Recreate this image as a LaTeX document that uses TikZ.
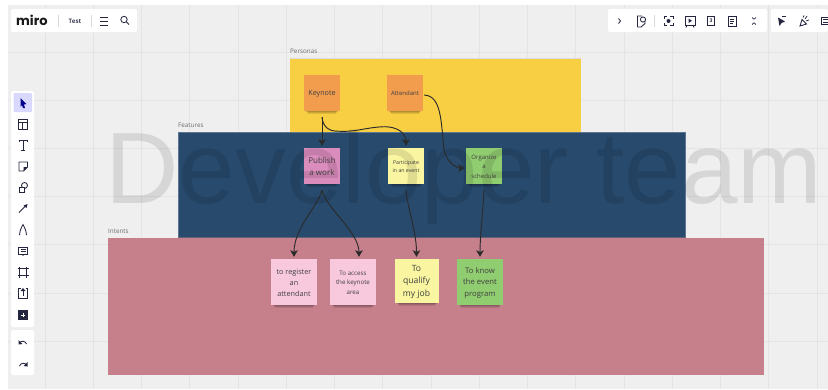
\documentclass[tikz,border=0pt]{standalone}
\usepackage{fontspec}
\setmainfont{Open Sans}
\newfontfamily\bigfont{Liberation Sans}
\newfontfamily\logofont{Poppins}
\usetikzlibrary{arrows.meta,calc}
\definecolor{bgc}{HTML}{EFEFEF}
\definecolor{gridc}{HTML}{E4E4E4}
\definecolor{yelf}{HTML}{F8CF42}
\definecolor{bluf}{HTML}{274A6D}
\definecolor{pnkf}{HTML}{C6808C}
\definecolor{orn}{HTML}{F29D4E}
\definecolor{pub}{HTML}{DA8CBC}
\definecolor{lyel}{HTML}{F9F5A0}
\definecolor{grn}{HTML}{90CC70}
\definecolor{lpnk}{HTML}{F8C9DC}
\definecolor{ink}{HTML}{2B2B2B}
\definecolor{icn}{HTML}{24253F}
\tikzset{
  framelabel/.style={anchor=base west,inner sep=0,text=black!58,font=\fontsize{6.3}{7}\selectfont},
  stickerbox/.style={fill=#1,draw=none,inner sep=0,text width=0},
  stickertext/.style={text=ink!90,align=center,inner sep=0,yshift=-.7pt},
  link/.style={draw=ink,line width=.95,-{Stealth[length=6.5pt,width=7.5pt,inset=1.6pt]}},
  panel/.style={fill=white,draw=none,rounded corners=2},
  ic/.style={draw=icn,line width=.85,fill=none},
  sep/.style={draw=black!15,line width=.5},
}
\newcommand{\stk}[6]{% name cx cy w h colour
  \foreach \k/\o in {0/.10,1/.10,2/.12}{
    \fill[black,opacity=\o] ({#2-#4/2+4-\k},{#3+#5/2-1}) rectangle ({#2+#4/2-4+\k},{#3+#5/2+3-\k});
  }
  \node[stickerbox=#6,minimum width=#4 pt,minimum height=#5 pt] (#1) at (#2,#3) {};
}
\begin{document}
\begin{tikzpicture}[x=1pt,y=-1pt]
\useasboundingbox (0,0) rectangle (828,389);
\fill[white] (0,0) rectangle (828,389);
\fill[bgc] (8,5) rectangle (828,389);
\foreach \i in {0,...,16} \draw[gridc,line width=.8] ({45+48.25*\i},5) -- ({45+48.25*\i},389);
\foreach \i in {0,...,6} \draw[gridc,line width=.8] (8,{52+48.2*\i}) -- (828,{52+48.2*\i});
% frames
\node[framelabel] (lper) at (290,53) {Personas};
\node[framelabel] (lfea) at (178,127) {Features};
\node[framelabel] (lint) at (108,233) {Intents};
\fill[yelf] (290,58) rectangle (581,132);
\draw[black!14,line width=.5] (290,58) -- (581,58);
\fill[bluf] (178,132) rectangle (685.5,238);
\draw[bluf!75!white,line width=.5] (178,238) -- (178,132) -- (685.5,132) -- (685.5,238);
\fill[pnkf] (107.5,237.5) rectangle (764,375);
\draw[bluf!60!pnkf,line width=.6] (178,237.5) -- (685.5,237.5);
% stickers
\stk{key}{322}{93}{36}{36}{orn}
\stk{att}{405}{93}{36}{36}{orn}
\stk{pw}{322}{166}{36}{36}{pub}
\stk{par}{406}{166}{36}{36}{lyel}
\stk{org}{484}{166}{36}{36}{grn}
\stk{reg}{294}{282}{46}{46}{lpnk}
\stk{acc}{353}{282}{46}{46}{lpnk}
\stk{qua}{416.5}{281}{44}{44}{lyel}
\stk{kno}{480}{282}{46}{46}{grn}
% big title overlays the frames and the stickers
\node[anchor=base west,inner sep=0,opacity=.1,text=black,font=\bigfont\fontsize{101.5}{102}\selectfont] (title) at (105.5,203) {Developer team};
% sticker texts
\node[stickertext,font=\fontsize{7.2}{9}\selectfont] (tkey) at (key) {Keynote};
\node[stickertext,font=\fontsize{6}{8}\selectfont] (tatt) at (att) {Attendant};
\node[stickertext,font=\fontsize{8}{11.5}\selectfont] (tpw) at (pw) {Publish\\a work};
\node[stickertext,font=\fontsize{5.2}{7.5}\selectfont] (tpar) at (par) {Participate\\in an event};
\node[stickertext,font=\fontsize{6}{9.2}\selectfont] (torg) at (org) {Organize\\a\\schedule};
\node[stickertext,font=\fontsize{7.3}{11}\selectfont] (treg) at (reg) {to register\\an\\attendant};
\node[stickertext,font=\fontsize{6.2}{9.5}\selectfont] (tacc) at (acc) {To access\\the keynote\\area};
\node[stickertext,font=\fontsize{8.6}{12.6}\selectfont] (tqua) at (qua) {To\\qualify\\my job};
\node[stickertext,font=\fontsize{7.7}{11.6}\selectfont] (tkno) at (kno) {To know\\the event\\program};
% connectors
\draw[link] ([yshift=-6pt]key.south) -- ([yshift=2pt]pw.north);
\draw[link] ([yshift=-6pt]key.south) .. controls +(1,10) and +(-9,0) .. ([xshift=16pt,yshift=-20pt]key.south) .. controls +(18,1) and +(-18,1) .. ([xshift=-24pt,yshift=21pt]par.north) .. controls +(16,-1) and +(0,-12) .. ([yshift=2pt]par.north);
\draw[link] ([xshift=1pt,yshift=-2pt]att.east) .. controls +(17,1) and +(-3,-30) .. ([xshift=-40pt,yshift=16pt]org.center) .. controls +(3,13) and +(-8,0) .. ([xshift=-1pt,yshift=-2pt]org.west);
\draw[link] ([yshift=-6pt]pw.south) .. controls +(-4,16) and +(0,-29) .. ([yshift=2pt]reg.north);
\draw[link] ([yshift=-6pt]pw.south) .. controls +(4,18) and +(0,-25) .. ([xshift=6pt,yshift=2pt]acc.north);
\draw[link] ([yshift=-6pt]par.south) .. controls +(2,20) and +(0,-25) .. ([yshift=2pt]qua.north);
\draw[link] ([yshift=-6pt]org.south) .. controls +(-1,20) and +(0,-20) .. ([yshift=2pt]kno.north);
% top-left bar
\fill[panel] (11,9) rectangle (137,32);
\node[anchor=base west,inner sep=0,text=black!90,font=\logofont\bfseries\fontsize{13}{13}\selectfont] (logo) at (16,25.5) {miro};
\draw[sep] (58,15) -- (58,27);
\node[inner sep=0,text=icn!85,font=\bfseries\fontsize{6.2}{7}\selectfont] (test) at (75,21) {Test};
\draw[sep] (91,15) -- (91,27);
\foreach \y in {17,21,25} \draw[ic] (100,\y) -- (108,\y);
\draw[ic] (124,19.5) circle (3.2); \draw[ic] (126.4,22) -- (129,24.5);
% left bar
\fill[panel] (11,91) rectangle (34,327);
\fill[panel] (11,330) rectangle (34,375);
\fill[blue!15,rounded corners=1] (13.5,93) rectangle (32,112);
\fill[blue!55!black] (20.5,98) -- (26.5,104) -- (24,104.5) -- (25,108) -- (23,108) -- (22,105) -- (20.5,107) -- cycle;
\draw[ic] (18.5,119) rectangle (27.5,129); \draw[ic] (18.5,122) -- (27.5,122); \draw[ic] (22,122) -- (22,129);
\draw[ic,line width=1] (19,142) -- (19,140.5) -- (27,140.5) -- (27,142) (23,140.5) -- (23,150) (21,150) -- (25,150);
\draw[ic,line join=round] (19,162) -- (27.5,162) -- (27.5,167) -- (23.5,171) -- (19,171) -- cycle;
\fill[icn] (27.5,167) -- (23.5,171) -- (23.5,167) -- cycle;
\draw[ic] (24.5,185.5) circle (3); \fill[white] (19,187) rectangle (24.5,192); \draw[ic] (19,187) rectangle (24.5,192);
\draw[ic] (19,212.5) -- (26,205.5); \fill[icn] (27.5,204) -- (26.5,208) -- (23.5,205.5) -- cycle;
\draw[ic] (19.5,235) .. controls (20,229) and (22,227) .. (23,224.5) .. controls (24,227) and (26,229) .. (26.5,235);
\draw[ic] (18.5,247) rectangle (27.5,254); \draw[ic] (20.5,249.5) -- (25.5,249.5) (20.5,251.8) -- (25.5,251.8); \fill[icn] (21.5,254) -- (24.5,254) -- (23,256) -- cycle;
\draw[ic] (19.5,266.5) -- (19.5,277.5) (26.5,266.5) -- (26.5,277.5) (17.5,268.5) -- (28.5,268.5) (17.5,275.5) -- (28.5,275.5);
\draw[ic] (20.5,288) -- (18.5,288) -- (18.5,298) -- (27.5,298) -- (27.5,288) -- (25.5,288);
\draw[ic] (23,296) -- (23,290); \fill[icn] (20.5,291) -- (25.5,291) -- (23,288) -- cycle;
\fill[icn] (18,310) rectangle (28,320); \draw[white,line width=.9] (21,315) -- (25,315) (23,313) -- (23,317);
\draw[ic] (26.5,344) .. controls (25,340.5) and (21,340.5) .. (19.5,343); \fill[icn] (18.5,340) -- (18.5,344.5) -- (22.5,344) -- cycle;
\draw[ic] (19.5,366) .. controls (21,362.5) and (25,362.5) .. (26.5,365); \fill[icn] (27.5,362) -- (27.5,366.5) -- (23.5,366) -- cycle;
% top-right bars
\fill[panel] (608,9) rectangle (767,32);
\fill[panel] (771,9) rectangle (828,32);
\draw[ic] (618.5,18.5) -- (620.5,21) -- (618.5,23.5);
\draw[ic] (637.5,27) -- (637.5,16) -- (642,16) (637.5,27) -- (641,27) -- (645,23.5) -- (645,21); \draw[ic] (643,19.5) circle (2.6);
\draw[sep] (654,15) -- (654,27);
\draw[ic] (664,19) -- (664,16.5) -- (666.5,16.5) (670,16.5) -- (673,16.5) -- (673,19) (673,23) -- (673,25.5) -- (670,25.5) (666.5,25.5) -- (664,25.5) -- (664,23);
\fill[icn] (668.5,21) circle (2);
\draw[ic] (685,16.5) rectangle (695,25); \fill[icn] (688.5,18.5) -- (692,20.8) -- (688.5,23) -- cycle; \draw[ic] (687,25) -- (686,27.5) (693,25) -- (694,27.5);
\draw[ic,line width=1] (707.5,16.5) rectangle (714.5,25.5); \node[inner sep=0,text=icn,font=\bfseries\fontsize{5}{5}\selectfont] (three) at (711,21) {3};
\draw[ic] (728,16.5) rectangle (736,26); \draw[ic,line width=.6] (730,19) -- (734,19) (730,21) -- (734,21) (730,23) -- (733,23);
\draw[ic,line width=.7] (752,17.5) -- (754,19.2) -- (756,17.5) (752,24.5) -- (754,22.8) -- (756,24.5);
\fill[icn] (778,17.5) -- (785,21.5) -- (781.5,23) -- (779.5,26) -- cycle; \draw[ic] (782,16.5) -- (786,16.5);
\draw[ic] (800,26) -- (802,19.5) -- (806.5,24) -- cycle; \draw[ic,line width=.7] (805,19) -- (807,16) (806,21) -- (809,20) (803,17.5) -- (804,15.5);
\draw[ic] (821,17) rectangle (828.5,24.5); \draw[ic,line width=.6] (823,19.5) -- (828,19.5) (823,22) -- (828,22);
\end{tikzpicture}
\end{document}
